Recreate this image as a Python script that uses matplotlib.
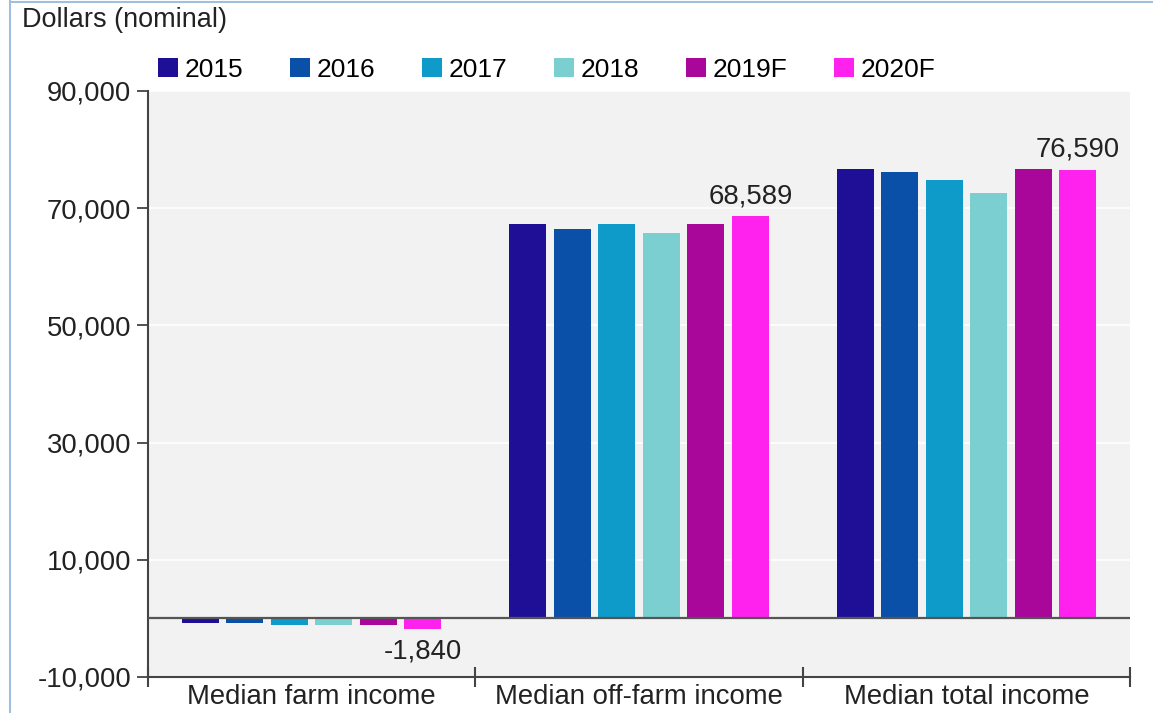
import matplotlib
matplotlib.use("Agg")
import matplotlib.pyplot as plt
from matplotlib.patches import Patch
from matplotlib.lines import Line2D
import numpy as np

categories = ["Median farm income", "Median off-farm income", "Median total income"]
series_names = ["2015", "2016", "2017", "2018", "2019F", "2020F"]
colors = ["#1f0f96", "#0a4fa8", "#0f9bc9", "#7ccfd0", "#a8079a", "#ff22ee"]
values = {
    "2015":  [-800, 67300, 76700],
    "2016":  [-800, 66400, 76200],
    "2017":  [-1150, 67300, 74800],
    "2018":  [-1200, 65800, 72600],
    "2019F": [-1050, 67300, 76700],
    "2020F": [-1840, 68589, 76590],
}
annotations = [(0, "2020F", "-1,840"), (1, "2020F", "68,589"), (2, "2020F", "76,590")]
yticks = [-10000, 10000, 30000, 50000, 70000, 90000]

FS = 19.8
TXT = "#222222"
plt.rcParams['font.family'] = ['Liberation Sans', 'DejaVu Sans']
fig = plt.figure(figsize=(11.53, 7.13), dpi=100)
fig.patch.set_facecolor("white")
ax = fig.add_axes([148/1153, 36/713, (1130-148)/1153, (677-91)/713])
ax.set_facecolor("#f2f2f2")

x = np.arange(len(categories))
slot = 0.136
bw = 0.113
n = len(series_names)
for i, (name, c) in enumerate(zip(series_names, colors)):
    ax.bar(x + (i - (n-1)/2) * slot, values[name], width=bw, color=c, zorder=3, label=name)

ax.set_xlim(-0.5, 2.5)
ax.set_ylim(-10000, 90000)
ax.set_yticks(yticks)
ax.set_yticklabels([f"{v:,}" for v in yticks], fontsize=FS, color=TXT)
ax.grid(axis="y", color="white", linewidth=1.2, zorder=0)
ax.axhline(0, color="#555555", linewidth=1.6, zorder=4)

ax.set_xticks([-0.5, 0.5, 1.5, 2.5])
ax.set_xticklabels([])
ax.set_xticks(x, minor=True)
ax.set_xticklabels(categories, minor=True, fontsize=FS, color=TXT)
ax.tick_params(axis="x", which="major", direction="inout", length=14, width=1.5, color="#444444")
ax.tick_params(axis="x", which="minor", length=0, pad=5)
ax.tick_params(axis="y", direction="out", length=8, width=1.3, color="#444444", pad=4)

for s in ["top", "right"]:
    ax.spines[s].set_visible(False)
for s in ["left", "bottom"]:
    ax.spines[s].set_color("#444444")
    ax.spines[s].set_linewidth(1.5)

for ci, name, txt in annotations:
    i = series_names.index(name)
    xpos = ci + (i - (n-1)/2) * slot
    v = values[name][ci]
    if v >= 0:
        ax.annotate(txt, (xpos, v), xytext=(0, 5), textcoords="offset points",
                    ha="center", va="bottom", fontsize=FS, color=TXT, zorder=5)
    else:
        ax.annotate(txt, (xpos, v), xytext=(0, -7), textcoords="offset points",
                    ha="center", va="top", fontsize=FS, color=TXT, zorder=5)

handles = [Patch(facecolor=c, edgecolor="none") for c in colors]
fig.legend(handles, series_names, loc="center left", bbox_to_anchor=(158/1153, 1 - 70/713),
           ncol=6, frameon=False, fontsize=19, handlelength=0.75, handleheight=0.75,
           handletextpad=0.25, columnspacing=1.78, borderaxespad=0, borderpad=0)

fig.text(22/1153, 1 - 20/713, "Dollars (nominal)", fontsize=19.5, color=TXT, va="center", ha="left")

fig.add_artist(Line2D([10/1153, 10/1153], [0, 1], color="#9fbfdc", linewidth=1.5))
fig.add_artist(Line2D([10/1153, 1], [1 - 1.5/713, 1 - 1.5/713], color="#9fbfdc", linewidth=1.5))

fig.savefig("out.png", dpi=100)
